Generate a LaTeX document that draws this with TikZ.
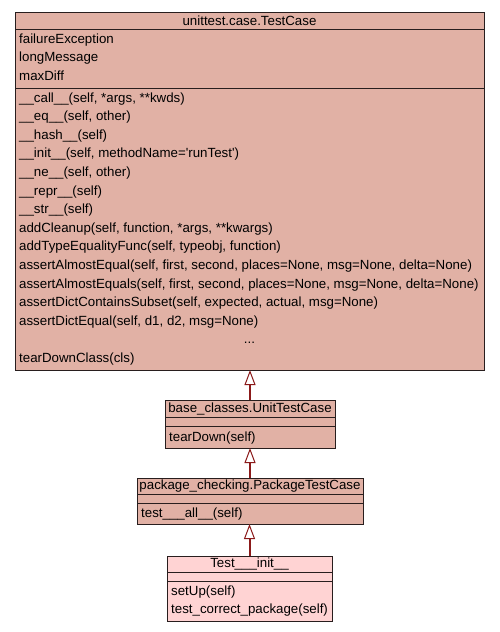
\documentclass[tikz,border=0pt]{standalone}
\usepackage{fontspec}
\usetikzlibrary{arrows.meta,positioning}
\newfontfamily\umlfont{Liberation Sans}
\definecolor{classfill}{RGB}{225,177,165}
\definecolor{mainfill}{RGB}{255,211,211}
\definecolor{edgered}{RGB}{139,26,26}
\definecolor{boxline}{RGB}{40,30,30}
\tikzset{
  part/.style={draw=boxline, line width=1pt, rectangle, inner sep=0pt, outer sep=0pt, fill=classfill},
  member/.style={anchor=base west, inner sep=0pt},
  inherit/.style={draw=edgered, line width=2pt, -{Triangle[length=15pt, width=11pt, fill=white, line width=1pt]}}
}

\begin{document}
\begin{tikzpicture}[x=1pt, y=-1pt, font=\umlfont\fontsize{13.3}{16}\selectfont]
    \useasboundingbox (0,0) rectangle (499,632);

    % unittest.case.TestCase
    \node[part, anchor=north west, minimum width=469pt, minimum height=17pt] (tcname) at (15,12) {unittest.case.TestCase};
    \node[part, below=0pt of tcname, minimum width=469pt, minimum height=59pt] (tcattr) {};
    \node[part, below=0pt of tcattr, minimum width=469pt, minimum height=282pt] (tcmeth) {};
    \foreach \t [count=\i from 0] in {failureException, longMessage, maxDiff}
        \node[member] (tca\i) at (19, 43+18.6*\i) {\t};
    \foreach \t [count=\i from 0] in {
        {\_\_call\_\_(self, *args, **kwds)},
        {\_\_eq\_\_(self, other)},
        {\_\_hash\_\_(self)},
        {\_\_init\_\_(self, methodName='runTest')},
        {\_\_ne\_\_(self, other)},
        {\_\_repr\_\_(self)},
        {\_\_str\_\_(self)},
        {addCleanup(self, function, *args, **kwargs)},
        {addTypeEqualityFunc(self, typeobj, function)},
        {assertAlmostEqual(self, first, second, places=None, msg=None, delta=None)},
        {assertAlmostEquals(self, first, second, places=None, msg=None, delta=None)},
        {assertDictContainsSubset(self, expected, actual, msg=None)},
        {assertDictEqual(self, d1, d2, msg=None)}}
        \node[member] (tcm\i) at (19, 102+18.6*\i) {\t};
    \node[anchor=base, inner sep=0pt] (tcmore) at (249.5, 343.8) {...};
    \node[member] (tclast) at (19, 362) {tearDownClass(cls)};

    % base_classes.UnitTestCase
    \node[part, anchor=north west, minimum width=170pt, minimum height=17pt] (utname) at (165,400) {base\_classes.UnitTestCase};
    \node[part, below=0pt of utname, minimum width=170pt, minimum height=9pt] (utattr) {};
    \node[part, below=0pt of utattr, minimum width=170pt, minimum height=22pt] (utmeth) {};
    \node[member] (utm0) at (169, 441) {tearDown(self)};

    % package_checking.PackageTestCase
    \node[part, anchor=north west, minimum width=226pt, minimum height=16pt] (ptname) at (137,478) {package\_checking.PackageTestCase};
    \node[part, below=0pt of ptname, minimum width=226pt, minimum height=9pt] (ptattr) {};
    \node[part, below=0pt of ptattr, minimum width=226pt, minimum height=21pt] (ptmeth) {};
    \node[member] (ptm0) at (141, 517) {test\_\_\_all\_\_(self)};

    % Test___init__
    \node[part, fill=mainfill, anchor=north west, minimum width=165pt, minimum height=16pt] (tiname) at (167,556) {Test\_\_\_init\_\_};
    \node[part, fill=mainfill, below=0pt of tiname, minimum width=165pt, minimum height=9pt] (tiattr) {};
    \node[part, fill=mainfill, below=0pt of tiattr, minimum width=165pt, minimum height=40pt] (timeth) {};
    \node[member] (tim0) at (171, 595) {setUp(self)};
    \node[member] (tim1) at (171, 613) {test\_correct\_package(self)};

    % Inheritance
    \draw[inherit] (utname.north) -- (utname.north |- tcmeth.south);
    \draw[inherit] (ptname.north) -- (ptname.north |- utmeth.south);
    \draw[inherit] (tiname.north) -- (tiname.north |- ptmeth.south);
\end{tikzpicture}
\end{document}
